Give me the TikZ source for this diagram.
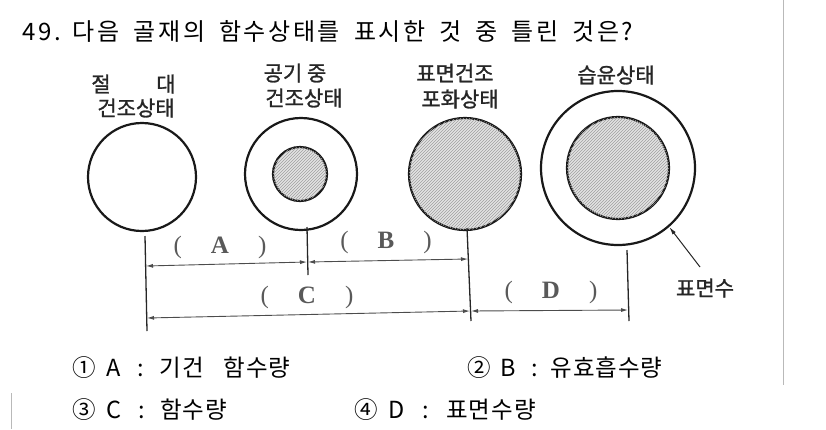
\documentclass[tikz,border=0pt]{standalone}
\usepackage{fontspec}
\setmainfont{Liberation Serif}
\newfontfamily\kr[LetterSpace=4]{Noto Sans CJK KR}
\newfontfamily\krwide[LetterSpace=11]{Noto Sans CJK KR}
\newfontfamily\krbold[FakeBold=1.2]{Noto Sans CJK KR}
\newcommand{\gp}[1]{\hspace{#1pt}}
\usetikzlibrary{patterns,arrows.meta,calc}
\begin{document}
\begin{tikzpicture}[x=1pt,y=-1pt,
  ring/.style={circle, draw=black!90, line width=2.2pt, inner sep=0pt},
  hatch/.style={circle, draw=black!90, line width=2.2pt, inner sep=0pt, fill=gray!22,
    postaction={pattern=north east lines, pattern color=gray!75}},
  lab/.style={font=\krbold\fontsize{21}{24}\selectfont, text=black!85, inner sep=0pt},
  qtext/.style={font=\krwide\fontsize{24}{28}\selectfont, anchor=west, inner sep=0pt},
  opt/.style={font=\kr\fontsize{23.5}{28}\selectfont, anchor=west, inner sep=0pt},
  dimlbl/.style={font=\fontsize{25}{28}\selectfont, text=black!65, inner sep=0pt},
  vline/.style={line width=1.3pt, black!85},
  dimline/.style={line width=0.9pt, black!70, {Latex[length=7pt,width=4pt]}-{Latex[length=7pt,width=4pt]}},
  edge/.style={gray!55, line width=1pt}
]
\useasboundingbox (0,0) rectangle (826,429);

% question
\node[qtext] (title) at (22,31) {49.\gp{12}다음\gp{14}골재의\gp{14}함수상태를\gp{14}표시한\gp{14}것\gp{14}중\gp{14}틀린\gp{14}것은?};

% circles
\node[ring, minimum size=108pt] (c1) at (142,177) {};
\node[ring, minimum size=112pt] (c2) at (301,174) {};
\node[hatch, minimum size=54pt] (c2i) at (300,174) {};
\node[hatch, minimum size=112pt] (c3) at (465,174) {};
\node[ring, minimum size=154pt] (c4) at (618,168) {};
\node[hatch, minimum size=102pt] (c4i) at (618,168) {};

% labels
\node[lab] (l1a) at (101,84) {절};
\node[lab] (l1b) at (166,84) {대};
\node[lab] (l1c) at (136,108) {건조상태};
\node[lab] (l2a) at (295,73) {공기 중};
\node[lab] (l2b) at (304,98) {건조상태};
\node[lab] (l3a) at (455,73) {표면건조};
\node[lab] (l3b) at (460,99) {포화상태};
\node[lab] (l4) at (616,75) {습윤상태};
\node[lab] (sw) at (705,288) {표면수};

% surface water arrow
\coordinate (swtail) at (700,267);
\draw[line width=1pt, black!85, -{Latex[length=8pt,width=4pt]}] (swtail) -- (c4.-49);

% vertical extension lines
\coordinate (v1t) at (145,236); \coordinate (v1b) at (147,331);
\coordinate (v2t) at (307,227); \coordinate (v2b) at (308,275);
\coordinate (v3t) at (467,228); \coordinate (v3b) at (471,321);
\coordinate (v4t) at (627,250); \coordinate (v4b) at (629,321);
\draw[vline] (v1t) -- (v1b);
\draw[vline] (v2t) -- (v2b);
\draw[vline] (v3t) -- (v3b);
\draw[vline] (v4t) -- (v4b);

% dimension lines
\coordinate (a1) at (146,266); \coordinate (a2) at (307,262);
\coordinate (b2) at (308,262); \coordinate (b3) at (468,259);
\coordinate (cc1) at (147,318); \coordinate (cc3) at (470,311);
\coordinate (d3) at (471,311); \coordinate (d4) at (628,310);
\draw[dimline] (a1) -- (a2);
\draw[dimline] (b2) -- (b3);
\draw[dimline] (cc1) -- (cc3);
\draw[dimline] (d3) -- (d4);

% dimension labels
\node[dimlbl] (la) at (220,247) {(\hspace{29pt}\textbf{A}\hspace{29pt})};
\node[dimlbl] (lb) at (386,242) {(\hspace{29pt}\textbf{B}\hspace{29pt})};
\node[dimlbl] (lc) at (307,297) {(\hspace{29pt}\textbf{C}\hspace{29pt})};
\node[dimlbl] (ld) at (551,292) {(\hspace{29pt}\textbf{D}\hspace{29pt})};

% answer options
\node[opt] (o1) at (72,368) {①\gp{11}A\gp{17}:\gp{15}기건\gp{20}함수량};
\node[opt] (o2) at (467,368) {②\gp{10}B\gp{15}:\gp{13}유효흡수량};
\node[opt] (o3) at (72,410) {③\gp{11}C\gp{17}:\gp{15}함수량};
\node[opt] (o4) at (354,410) {④\gp{11}D\gp{18}:\gp{17}표면수량};

% page edges
\draw[edge] (783,0) -- (783,385);
\draw[edge] (11,393) -- (11,429);
\end{tikzpicture}
\end{document}
